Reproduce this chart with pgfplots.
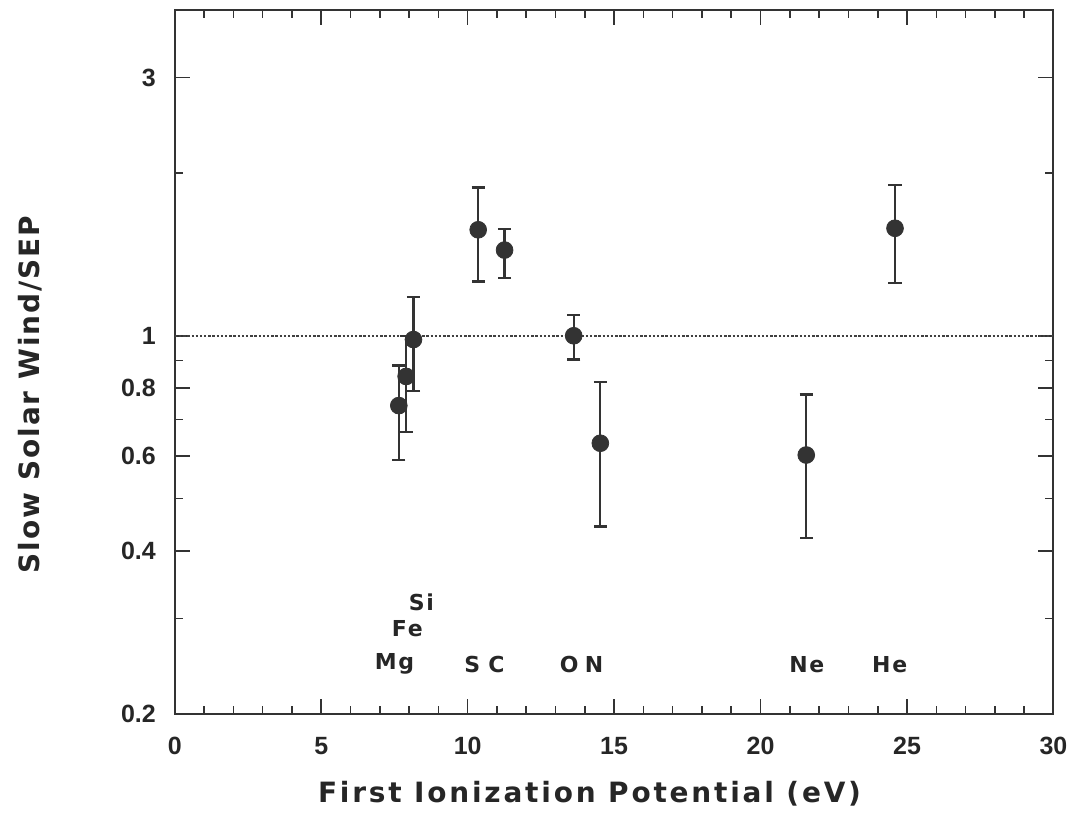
\documentclass[border=0pt]{standalone}
\usepackage{pgfplots}
\pgfplotsset{compat=1.18}
\usepackage{fontspec}
\setmainfont{Liberation Sans}
\newfontfamily\xlabfont[LetterSpace=10]{DejaVu Sans}
\newfontfamily\ylabfont[LetterSpace=7]{DejaVu Sans}
\newfontfamily\elfont[LetterSpace=8]{DejaVu Sans}
\begin{document}
\begin{tikzpicture}
\begin{axis}[
  at={(0,0)}, anchor=south west,
  width=440pt, height=352.5pt, scale only axis,
  xmin=0, xmax=30, ymin=0.2, ymax=4, ymode=log,
  xtick={0,5,...,30}, minor x tick num=4,
  ytick={0.2,0.4,0.6,0.8,1,3},
  yticklabels={0.2,0.4,0.6,0.8,1,3},
  minor ytick={0.3,0.5,0.7,0.9,2},
  /pgf/number format/assume math mode=true,
  tick align=inside,
  major tick length=7.5pt, minor tick length=4pt,
  tick style={black!80, line width=0.8pt},
  axis line style={black!80, line width=1pt},
  ticklabel style={font=\fontsize{12.5}{14}\selectfont\bfseries, black!85},
  xticklabel style={yshift=-8pt},
  yticklabel style={xshift=-6pt},
  xlabel={First Ionization Potential (eV)},
  ylabel={Slow Solar Wind/SEP},
  xlabel style={at={(axis description cs:0.472,-0.1135)}, anchor=center, font=\xlabfont\fontsize{14}{16}\selectfont\bfseries, black!85},
  ylabel style={at={(axis description cs:-0.1648,0.454)}, anchor=center, font=\ylabfont\fontsize{14}{16}\selectfont\bfseries, black!85},
  error bars/error bar style={line width=1.1pt, black!80},
  error bars/error mark options={rotate=90, mark size=3.3pt, line width=1.1pt, black!80},
  clip=false,
]
\addplot[black!75, line width=0.9pt, dash pattern=on 1.2pt off 0.9pt] coordinates {(0,1) (30,1)};
\addplot[only marks, mark=*, mark size=4.2pt, color=black!80,
  error bars/.cd, y dir=both, y explicit]
  table[x=x, y=y, y error plus=ep, y error minus=em] {
x      y      ep     em
7.65   0.743  0.138  0.154
7.90   0.841  0.159  0.177
8.15   0.984  0.196  0.194
10.36  1.57   0.31   0.31
11.26  1.44   0.135  0.16
13.62  1.00   0.094  0.096
14.53  0.633  0.187  0.189
21.56  0.602  0.177  0.179
24.59  1.58   0.32   0.33
};
\begin{scope}[every node/.style={font=\elfont\fontsize{11}{13}\selectfont\bfseries, black!85, anchor=center}]
\node at (axis cs:7.5,0.247) {Mg};
\node at (axis cs:7.94,0.287) {Fe};
\node at (axis cs:8.42,0.321) {Si};
\node at (axis cs:10.16,0.247) {S};
\node at (axis cs:10.98,0.247) {C};
\node at (axis cs:13.47,0.247) {O};
\node at (axis cs:14.32,0.247) {N};
\node at (axis cs:21.58,0.247) {Ne};
\node at (axis cs:24.41,0.247) {He};
\end{scope}
\end{axis}
\path (-87.5pt,-58.5pt) rectangle (449.5pt,357.5pt);
\end{tikzpicture}
\end{document}
